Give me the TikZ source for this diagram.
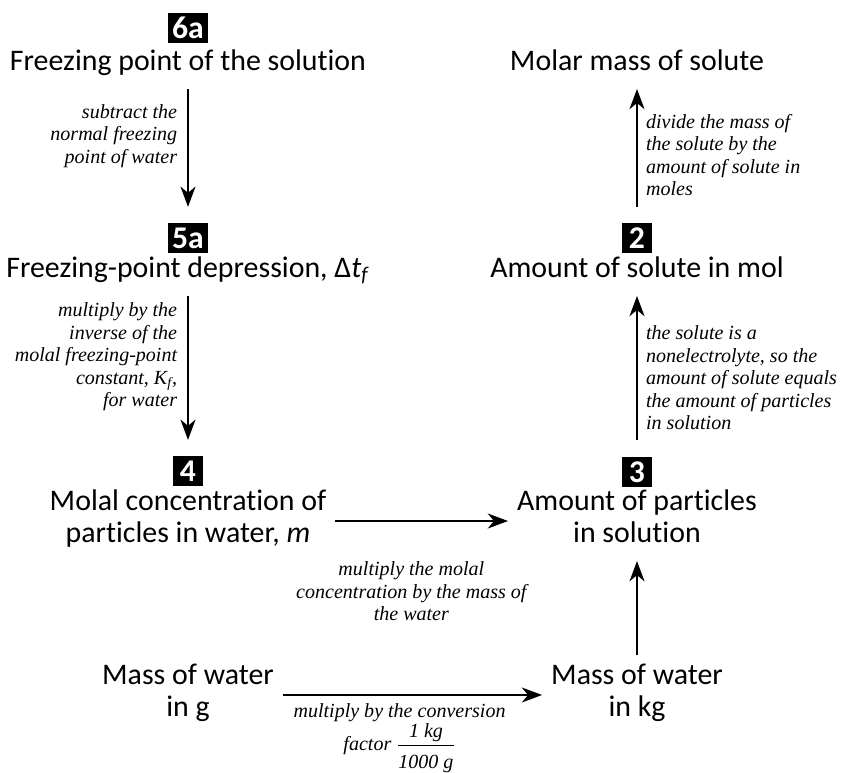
\documentclass[tikz,border=0pt]{standalone}
\usepackage{amsmath}
\usepackage{fontspec}
\setmainfont{Liberation Serif}
\setsansfont{Carlito}[Ligatures=NoCommon]
\usetikzlibrary{positioning,arrows.meta}

\begin{document}
\begin{tikzpicture}[x=0.02cm,y=-0.02cm]

  \tikzset{
    flow/.style={line width=1.4pt,-{Stealth[length=11.5pt,width=8.5pt,inset=3.5pt]}},
    stepbox/.style={fill=black,text=white,font=\sffamily\bfseries\fontsize{18}{18}\selectfont,
      inner xsep=2.5pt,inner ysep=0pt,minimum height=17pt,minimum width=17.5pt},
    quantity/.style={font=\sffamily\fontsize{17}{18}\selectfont,align=center,inner sep=5pt,
      execute at begin node=\strut,execute at end node=\strut},
    how/.style={font=\itshape\fontsize{11.4}{12.8}\selectfont,inner sep=0pt,
      execute at begin node=\strut,execute at end node=\strut},
  }

  \useasboundingbox (0,0) rectangle (841,773);

   % left column
   \node[stepbox] (box6a) at (188,28) {6a};
   \node[quantity] (lbl6a) at (188,64) {Freezing point of the solution};
   \node[stepbox] (box5a) at (188,238) {5a};
   \node[quantity] (lbl5a) at (188,271) {Freezing-point depression, Δ\textit{t}\textsubscript{\textit{f}}};
   \node[stepbox] (box4) at (188,471) {4};
   \node[quantity] (lbl4) at (188,521) {Molal concentration of\\particles in water, \textit{m}};
   \node[quantity] (lblG) at (188,695) {Mass of water\\in g};

   % right column
   \node[quantity] (lblM) at (637,64) {Molar mass of solute};
   \node[stepbox] (box2) at (637,238) {2};
   \node[quantity] (lbl2) at (637,271) {Amount of solute in mol};
   \node[stepbox] (box3) at (637,472) {3};
   \node[quantity] (lbl3) at (637,521) {Amount of particles\\in solution};
   \node[quantity] (lblK) at (637,695) {Mass of water\\in kg};

   \path[flow] (lbl6a) edge[shorten >=9pt] node[how,left=5.5pt,pos=0.36,align=right]
     {subtract the\\normal freezing\\point of water} (box5a);
   \path[flow] (lbl5a) edge[shorten >=9pt] node[how,left=5.5pt,pos=0.39,align=right]
     {multiply by the\\inverse of the\\molal freezing-point\\constant, K\textsubscript{f},\\for water} (box4);

   \path[flow] (box3) edge[shorten <=9.5pt] node[how,right=4.5pt,pos=0.47,align=left]
     {the solute is a\\nonelectrolyte, so the\\amount of solute equals\\the amount of particles\\in solution} (lbl2);
   \path[flow] (box2) edge[shorten <=9pt] node[how,right=4.5pt,pos=0.48,align=left]
     {divide the mass of\\the solute by the\\amount of solute in\\moles} (lblM);

   \path[flow] (lbl4) edge node[how,below=22.5pt,pos=0.44,align=center]
     {multiply the molal\\concentration by the mass of\\the water} (lbl3);
   \path[flow] (lblK) edge (lbl3);

   \path[flow] (lblG) edge node[how,below=4pt,pos=0.45,align=center]
     {multiply by the conversion\\factor $\dfrac{\text{\itshape 1 kg}}{\text{\itshape\rule{0pt}{11.5pt}1000 g}}$} (lblK);

\end{tikzpicture}
\end{document}
